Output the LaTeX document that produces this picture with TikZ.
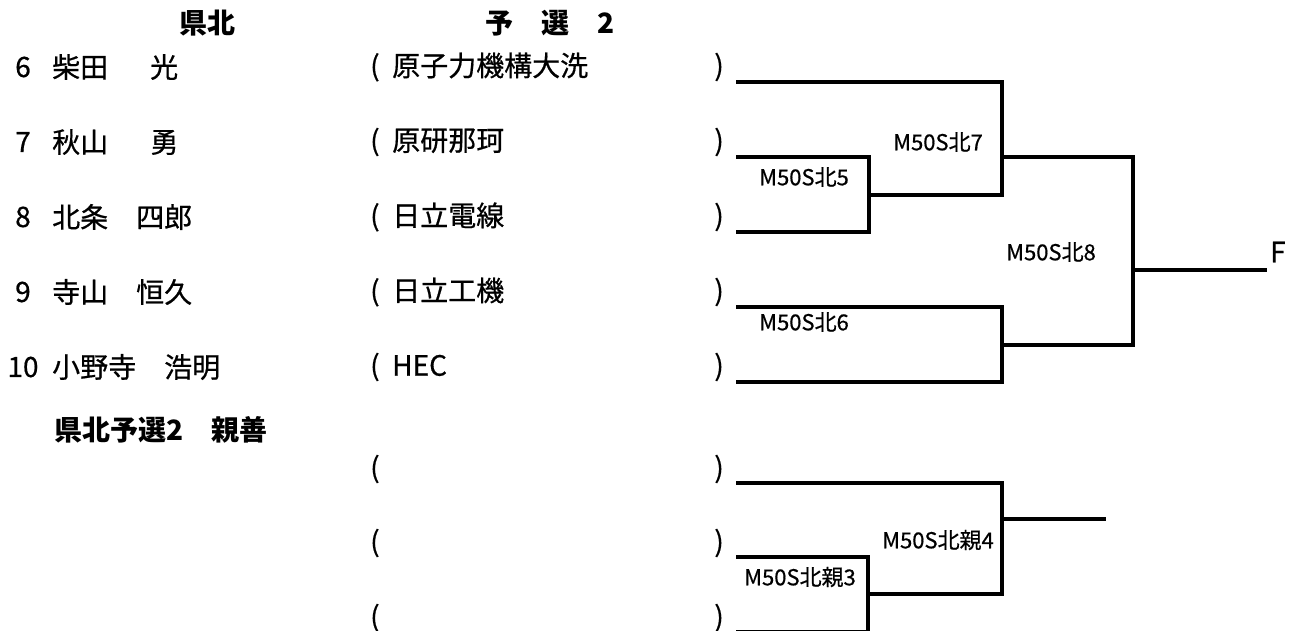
\documentclass[tikz,border=0pt]{standalone}
\usepackage{fontspec}
\setmainfont{Noto Sans CJK JP}[UprightFeatures={FakeBold=0.6}]
\usetikzlibrary{positioning, calc}
\tikzset{x=1pt, y=-1pt, % One unit is one pixel of the sheet, y grows downward
        every node/.style={ % Sets the properties for each text
            inner sep=0pt,
            font=\fontsize{28}{30}\selectfont},
        head/.style={ % Bold headings
            font=\fontsize{28}{30}\selectfont\bfseries},
        player/.style={anchor=west},
        game/.style={ % Match numbers inside the bracket
            anchor=east,
            font=\fontsize{22}{24}\selectfont},
        bline/.style={ % Sets the properties for each bracket line
            draw,
            line width=3.2pt}
        }

\begin{document}
\begin{tikzpicture}
    \useasboundingbox (0,0) rectangle (1299,630);

    \node[head] (h1) at (207,23) {県北};
    \node[head] (h2) at (550,23) {予　選　2};
    \node[head, anchor=west] (h3) at (54,430) {県北予選2　親善};

    % players
    \node (n6) at (23,67) {6};
    \node[player] (p6) at (52,67) {柴田\hspace{1.5em}光};
    \node[player] (c6) at (370,67) {(\hspace{0.45em}原子力機構大洗};
    \node[anchor=east] (e6) at (724,67) {)};
    \node (n7) at (23,142) {7};
    \node[player] (p7) at (52,142) {秋山\hspace{1.5em}勇};
    \node[player] (c7) at (370,142) {(\hspace{0.45em}原研那珂};
    \node[anchor=east] (e7) at (724,142) {)};
    \node (n8) at (23,217) {8};
    \node[player] (p8) at (52,217) {北条　四郎};
    \node[player] (c8) at (370,217) {(\hspace{0.45em}日立電線};
    \node[anchor=east] (e8) at (724,217) {)};
    \node (n9) at (23,292) {9};
    \node[player] (p9) at (52,292) {寺山　恒久};
    \node[player] (c9) at (370,292) {(\hspace{0.45em}日立工機};
    \node[anchor=east] (e9) at (724,292) {)};
    \node (n10) at (23,367) {10};
    \node[player] (p10) at (52,367) {小野寺　浩明};
    \node[player] (c10) at (370,367) {(\hspace{0.45em}HEC};
    \node[anchor=east] (e10) at (724,367) {)};

    \node[player] (c11) at (370,469) {(};
    \node[anchor=east] (e11) at (724,469) {)};
    \node[player] (c12) at (370,543) {(};
    \node[anchor=east] (e12) at (724,543) {)};
    \node[player] (c13) at (370,618) {(};
    \node[anchor=east] (e13) at (724,618) {)};

    % bracket ends and winners
    \coordinate (s6) at (736,82);
    \coordinate (s7) at (736,157);
    \coordinate (s8) at (736,232);
    \coordinate (s9) at (736,307);
    \coordinate (s10) at (736,382);
    \coordinate (w5) at (869,195);
    \coordinate (w7) at (1002,157);
    \coordinate (w6) at (1002,345);
    \coordinate (w8) at (1133,270);
    \coordinate (fin) at (1267,270);
    \coordinate (t1) at (736,483);
    \coordinate (t2) at (736,557);
    \coordinate (t3) at (736,632);
    \coordinate (v3) at (868,594);
    \coordinate (v4) at (1002,519);
    \coordinate (out) at (1106,519);

    \draw[bline] (s7) -| (w5) |- (s8);
    \draw[bline] (s6) -| (w7) |- (w5);
    \draw[bline] (s9) -| (w6) |- (s10);
    \draw[bline] (w7) -| (w8) |- (w6);
    \draw[bline] (w8) -- (fin);
    \draw[bline] (t2) -| (v3) |- (t3);
    \draw[bline] (t1) -| (v4) |- (v3);
    \draw[bline] (v4) -- (out);

    \node[game] (g5) at (849,177) {M50S北5};
    \node[game] (g7) at (983,142) {M50S北7};
    \node[game] (g6) at (849,322) {M50S北6};
    \node[game] (g8) at (1096,252) {M50S北8};
    \node[game] (g3) at (856,577) {M50S北親3};
    \node[game] (g4) at (994,540) {M50S北親4};
    \node[anchor=west] (f) at (1270,252) {F};
\end{tikzpicture}
\end{document}
